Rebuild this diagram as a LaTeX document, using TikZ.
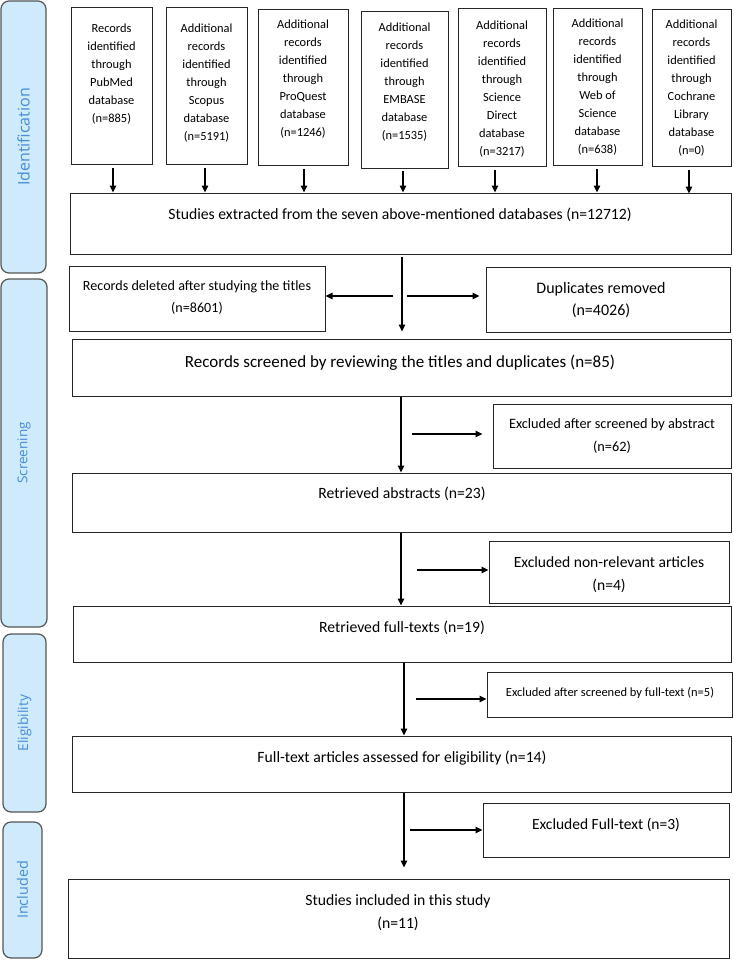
\documentclass[tikz,border=0pt]{standalone}
\usepackage{fontspec}
\setmainfont{Carlito}
\newfontfamily\barfont{Open Sans}
\usetikzlibrary{arrows.meta}
\definecolor{barfill}{RGB}{206,234,251}
\definecolor{bartext}{RGB}{70,140,215}
\definecolor{bardraw}{RGB}{85,85,85}
\tikzset{
  box/.style={draw=black!85, line width=1pt, inner sep=0pt},
  bar/.style={draw=bardraw, fill=barfill, line width=1.2pt, rounded corners=8pt, inner sep=0pt},
  bartxt/.style={text=bartext, rotate=90, inner sep=0pt},
  toptxt/.style={align=center, inner sep=0pt, anchor=north, font=\fontsize{12.4}{18}\selectfont},
  txt/.style={inner sep=0pt, anchor=base},
  txttwo/.style={align=center, inner sep=0pt, anchor=north},
  arr/.style={-{Triangle[length=7pt,width=6.5pt]}, line width=1.4pt},
}
\begin{document}
\begin{tikzpicture}[x=1pt,y=-1pt]
\useasboundingbox (0,0) rectangle (733,960);

% side bars
\node[bar, minimum width=45, minimum height=272] (idb) at (23.5,137) {};
\node[bartxt, font=\barfont\fontsize{16}{18}\selectfont] (idt) at (idb.center) {Identification};
\node[bar, minimum width=46, minimum height=348] (scb) at (24,453) {};
\node[bartxt, font=\barfont\fontsize{13.5}{16}\selectfont] (sct) at (scb.center) {Screening};
\node[bar, minimum width=43, minimum height=178] (elb) at (24.5,723) {};
\node[bartxt, font=\barfont\fontsize{13.8}{16}\selectfont] (elt) at (elb.center) {Eligibility};
\node[bar, minimum width=39, minimum height=136] (inb) at (22.5,890) {};
\node[bartxt, font=\barfont\fontsize{14.4}{16}\selectfont] (int) at (inb.center) {Included};

% top database boxes
\node[box, minimum width=81, minimum height=157] (pub) at (111.5,86.5) {};
\node[toptxt] (pubt) at (111.5,23.3) {Records\\identified\\through\\PubMed\\database\\(n=885)};
\node[box, minimum width=81, minimum height=157] (sco) at (206.5,86.5) {};
\node[toptxt] (scot) at (206.5,23.3) {Additional\\records\\identified\\through\\Scopus\\database\\(n=5191)};
\node[box, minimum width=90, minimum height=156] (pro) at (303,88) {};
\node[toptxt] (prot) at (303,19.3) {Additional\\records\\identified\\through\\ProQuest\\database\\(n=1246)};
\node[box, minimum width=87, minimum height=157] (emb) at (404.5,90.5) {};
\node[toptxt] (embt) at (404.5,22.3) {Additional\\records\\identified\\through\\EMBASE\\database\\(n=1535)};
\node[box, minimum width=88, minimum height=158] (sd) at (502,88) {};
\node[toptxt] (sdt) at (502,20.3) {Additional\\records\\identified\\through\\Science\\Direct\\database\\(n=3217)};
\node[box, minimum width=89, minimum height=157] (wos) at (597.5,87.5) {};
\node[toptxt] (wost) at (597.5,18.3) {Additional\\records\\identified\\through\\Web of\\Science\\database\\(n=638)};
\node[box, minimum width=79, minimum height=157] (coc) at (691.5,88.5) {};
\node[toptxt] (coct) at (691.5,19.3) {Additional\\records\\identified\\through\\Cochrane\\Library\\database\\(n=0)};

% main boxes
\node[box, minimum width=661, minimum height=61] (ext) at (400.5,223.5) {};
\node[txt, font=\fontsize{15.7}{22}\selectfont] (extt) at (400,219.2) {Studies extracted from the seven above-mentioned databases (n=12712)};

\node[box, minimum width=256, minimum height=65] (del) at (197,298.5) {};
\node[txttwo, font=\fontsize{14.1}{22}\selectfont] (delt) at (197,280.6) {Records deleted after studying the titles\\(n=8601)};

\node[box, minimum width=244, minimum height=65] (dup) at (608,299.5) {};
\node[txttwo, font=\fontsize{16}{22}\selectfont] (dupt) at (601,282) {Duplicates removed\\(n=4026)};

\node[box, minimum width=659, minimum height=57] (scr) at (401.5,367.5) {};
\node[txt, font=\fontsize{17}{22}\selectfont] (scrt) at (400,367.6) {Records screened by reviewing the titles and duplicates (n=85)};

\node[box, minimum width=238, minimum height=64] (exa) at (612,436) {};
\node[txttwo, font=\fontsize{14.3}{23}\selectfont] (exat) at (612,418.6) {Excluded after screened by abstract\\(n=62)};

\node[box, minimum width=659, minimum height=59] (abs) at (401.5,502.5) {};
\node[txt, font=\fontsize{15.7}{22}\selectfont] (abst) at (402,498.2) {Retrieved abstracts (n=23)};

\node[box, minimum width=240, minimum height=62] (exn) at (609,572) {};
\node[txttwo, font=\fontsize{15.6}{23}\selectfont] (exnt) at (609,556) {Excluded non-relevant articles\\(n=4)};

\node[box, minimum width=658, minimum height=56] (ft) at (402,634) {};
\node[txt, font=\fontsize{15.7}{22}\selectfont] (ftt) at (402,632.2) {Retrieved full-texts (n=19)};

\node[box, minimum width=245, minimum height=45] (exf) at (609.5,694.5) {};
\node[txt, font=\fontsize{12.5}{16}\selectfont] (exft) at (610,696.1) {Excluded after screened by full-text (n=5)};

\node[box, minimum width=659, minimum height=56] (ass) at (401.5,764) {};
\node[txt, font=\fontsize{15.7}{22}\selectfont] (asst) at (402,762.2) {Full-text articles assessed for eligibility (n=14)};

\node[box, minimum width=246, minimum height=54] (ex3) at (606,830) {};
\node[txt, font=\fontsize{15.5}{22}\selectfont] (ex3t) at (606,829.1) {Excluded Full-text (n=3)};

\node[box, minimum width=661, minimum height=79] (inc) at (398.5,918.5) {};
\node[txttwo, font=\fontsize{15.7}{23}\selectfont] (inct) at (398,894) {Studies included in this study\\(n=11)};

% arrows from databases
\draw[arr] ([xshift=1.5pt,yshift=-3pt]pub.south) -- ([xshift=1.5pt]pub.south |- ext.north);
\draw[arr] ([xshift=-1.5pt,yshift=-3pt]sco.south) -- ([xshift=-1.5pt]sco.south |- ext.north);
\draw[arr] ([xshift=1pt,yshift=-3pt]pro.south) -- ([xshift=1pt]pro.south |- ext.north);
\draw[arr] ([xshift=-1.5pt,yshift=-2pt]emb.south) -- ([xshift=-1.5pt]emb.south |- ext.north);
\draw[arr] ([xshift=-7pt,yshift=-3pt]sd.south) -- ([xshift=-7pt]sd.south |- ext.north);
\draw[arr] ([xshift=-0.5pt,yshift=-3pt]wos.south) -- ([xshift=-0.5pt]wos.south |- ext.north);
\draw[arr] ([xshift=-2.5pt,yshift=-3pt]coc.south) -- ([xshift=-2.5pt,yshift=-1pt]coc.south |- ext.north);

% main flow
\draw[arr] ([xshift=1.5pt,yshift=-2pt]ext.south) -- ([xshift=0.5pt,yshift=7pt]scr.north);
\coordinate (hL) at (393,296);
\coordinate (hR) at (407,296);
\draw[arr] (hL) -- (hL -| del.east);
\draw[arr] (hR) -- ([xshift=-6pt]hR -| dup.west);

\draw[arr] ([xshift=-0.5pt]scr.south) -- ([xshift=-0.5pt]scr.south |- abs.north);
\coordinate (ha) at (412,434);
\draw[arr] (ha) -- ([xshift=-10pt]ha -| exa.west);

\draw[arr] ([xshift=-0.5pt]abs.south) -- ([xshift=-0.5pt]abs.south |- ft.north);
\coordinate (hn) at (417,570);
\draw[arr] (hn) -- (hn -| exn.west);

\draw[arr] ([xshift=2pt]ft.south) -- ([xshift=2pt]ft.south |- ass.north);
\coordinate (hf) at (416,699);
\draw[arr] (hf) -- (hf -| exf.west);

\draw[arr] ([xshift=2.5pt]ass.south) -- ([xshift=2.5pt,yshift=11pt]ass.south |- inc.north);
\coordinate (h3) at (410,830);
\draw[arr] (h3) -- (h3 -| ex3.west);
\end{tikzpicture}
\end{document}
